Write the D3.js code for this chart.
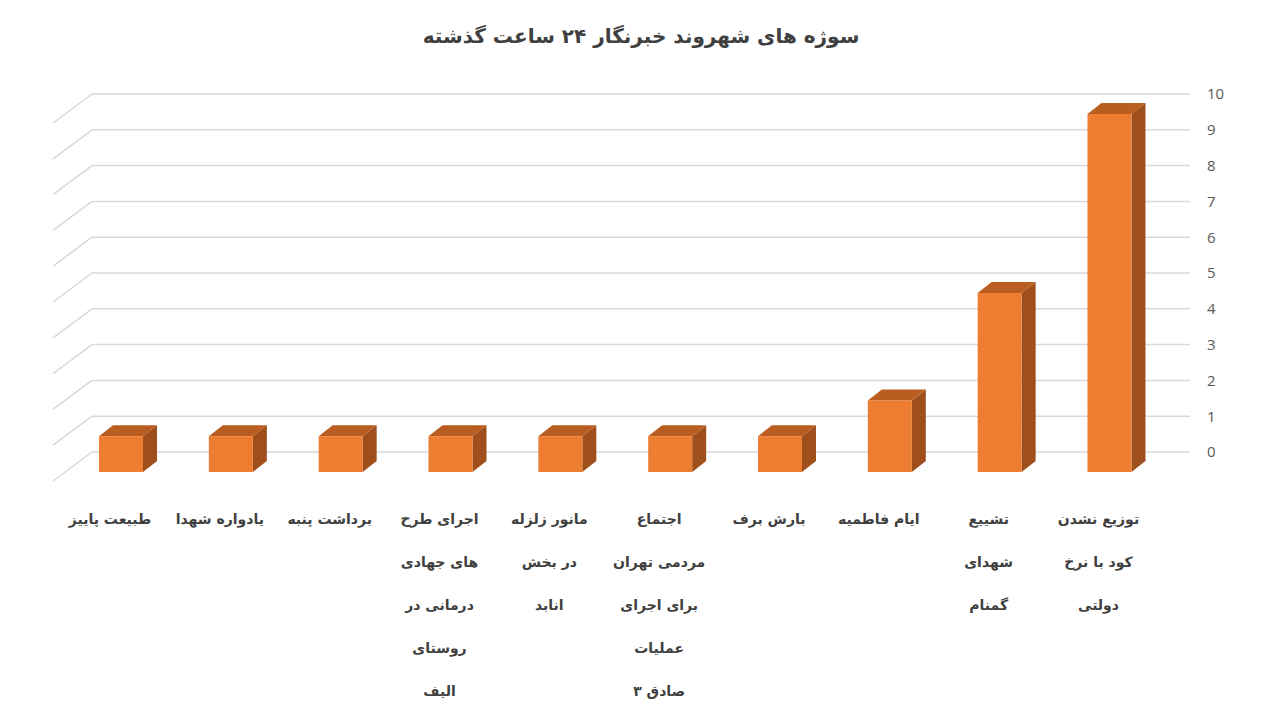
<!DOCTYPE html>
<html><head><meta charset="utf-8">
<script src="https://cdn.jsdelivr.net/npm/d3@7"></script>
<style>
html,body{margin:0;padding:0;background:#fff;}
svg{display:block;}
</style></head>
<body>
<script>
// Data (first category is rightmost, RTL chart)
const categories = [
  "توزیع نشدن\nکود با نرخ\nدولتی",
  "تشییع\nشهدای\nگمنام",
  "ایام فاطمیه",
  "بارش برف",
  "اجتماع\nمردمی تهران\nبرای اجرای\nعملیات\nصادق ۳",
  "مانور زلزله\nدر بخش\nانابد",
  "اجرای طرح\nهای جهادی\nدرمانی در\nروستای\nالیف",
  "برداشت پنبه",
  "یادواره شهدا",
  "طبیعت پاییز"
];
const values = [10, 5, 2, 1, 1, 1, 1, 1, 1, 1];
const yTicks = [0,1,2,3,4,5,6,7,8,9,10];
const title = "سوژه های شهروند خبرنگار ۲۴ ساعت گذشته";

const W = 1280, H = 720;
const svg = d3.select("body").append("svg").attr("width", W).attr("height", H);

const y = d3.scaleLinear().domain([0, 10]).range([452, 94]);
const x = d3.scaleBand().domain(categories).range([1164.4, 66.1]).paddingInner(0).paddingOuter(0);

const wallLeft = 92, wallRight = 1190, slantDx = 39, slantDy = 29;
const frontDy = 20;       // bars' front face offset from back wall
const depthDx = 14, depthDy = 11;
const barW = 44;

// title
svg.append("text").attr("x", 641).attr("y", 43)
  .attr("text-anchor", "middle").attr("direction", "rtl")
  .attr("font-family", "DejaVu Sans, sans-serif").attr("font-weight", "bold")
  .attr("font-size", 20).attr("fill", "#404040").text(title);

// gridlines
const grid = svg.append("g");
yTicks.forEach(t => {
  grid.append("line").attr("x1", wallLeft).attr("x2", wallRight)
    .attr("y1", y(t)).attr("y2", y(t))
    .attr("stroke", "#D9D9D9").attr("stroke-width", 1.5);
  grid.append("line").attr("x1", wallLeft - slantDx).attr("y1", y(t) + slantDy)
    .attr("x2", wallLeft).attr("y2", y(t))
    .attr("stroke", "#D9D9D9").attr("stroke-width", 1.5);
});

// axis on the right
const axis = d3.axisRight(y).tickValues(yTicks).tickSize(0).tickPadding(0).tickFormat(d3.format("d"));
const ag = svg.append("g").attr("transform", `translate(1207,0)`).call(axis);
ag.select(".domain").remove();
ag.selectAll("text").attr("font-family", "Open Sans, sans-serif").attr("font-size", 15).attr("fill", "#595959");

// bars
const bars = svg.append("g");
categories.forEach((c, i) => {
  const v = values[i];
  const cx = x(c) + x.bandwidth() / 2;
  const x0 = cx - barW / 2, x1 = cx + barW / 2;
  const yt = y(v) + frontDy, yb = y(0) + frontDy;
  // side
  bars.append("path")
    .attr("d", `M${x1},${yt}L${x1 + depthDx},${yt - depthDy}L${x1 + depthDx},${yb - depthDy}L${x1},${yb}Z`)
    .attr("fill", "#9E4F1B");
  // top
  bars.append("path")
    .attr("d", `M${x0},${yt}L${x1},${yt}L${x1 + depthDx},${yt - depthDy}L${x0 + depthDx},${yt - depthDy}Z`)
    .attr("fill", "#B95D20");
  // front
  bars.append("rect").attr("x", x0).attr("y", yt).attr("width", barW).attr("height", yb - yt)
    .attr("fill", "#ED7D31");
});

// category labels
const lg = svg.append("g");
categories.forEach((c, i) => {
  const cx = x(c) + x.bandwidth() / 2 - 11;
  const lines = c.split("\n");
  lines.forEach((ln, k) => {
    lg.append("text").attr("x", cx).attr("y", 524 + k * 43)
      .attr("text-anchor", "middle").attr("direction", "rtl")
      .attr("font-family", "DejaVu Sans, sans-serif").attr("font-weight", "bold")
      .attr("font-size", 14).attr("fill", "#404040").text(ln);
  });
});
</script>
</body></html>
